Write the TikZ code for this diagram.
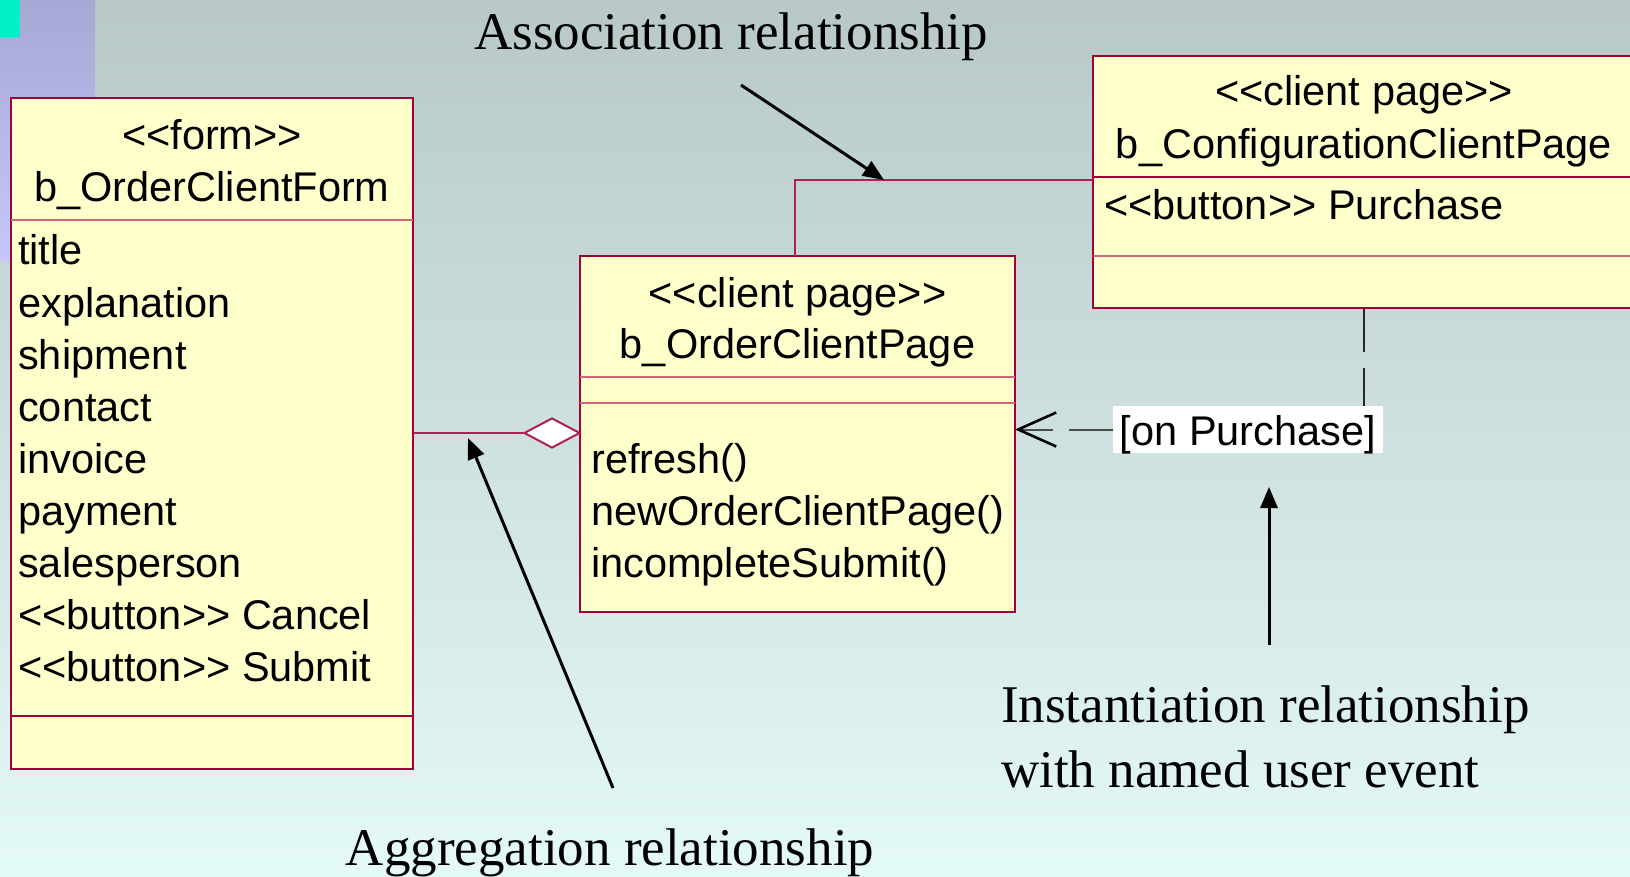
\documentclass[tikz,border=0pt]{standalone}
\usepackage{fontspec}
\setmainfont{Liberation Sans}
\newfontfamily\annfont{Liberation Serif}
\usetikzlibrary{arrows.meta,shapes.geometric}
\definecolor{bgtop}{RGB}{183,200,199}
\definecolor{bgbot}{RGB}{228,250,248}
\definecolor{lavtop}{RGB}{168,168,214}
\definecolor{lavbot}{RGB}{198,198,250}
\definecolor{cyanbox}{RGB}{0,240,200}
\definecolor{boxfill}{RGB}{255,255,204}
\definecolor{crim}{RGB}{160,0,60}
\definecolor{crimlt}{RGB}{208,100,122}
\definecolor{crimln}{RGB}{176,30,84}
\newcommand\stO{<\kern0pt<}
\newcommand\stC{>\kern0pt>}
\begin{document}
\begin{tikzpicture}[x=1pt,y=-1pt,
  classbox/.style={draw=crim, line width=2pt, fill=boxfill, inner sep=0pt, outer sep=0pt},
  sepl/.style={draw=crimlt, line width=2pt},
  sepd/.style={draw=crim, line width=2pt},
  relline/.style={draw=crimln, line width=2pt},
  txt/.style={inner sep=0pt, font=\fontsize{41.5}{52}\selectfont},
  ann/.style={inner sep=0pt, font=\annfont\fontsize{53}{63}\selectfont},
  annarrow/.style={draw=black, line width=3pt, -{Triangle[length=21pt,width=17pt]}},
  instline/.style={line width=2pt, dash pattern=on 44pt off 16pt}
]
\useasboundingbox (0,0) rectangle (1630,877);
% background
\shade[top color=bgtop, bottom color=bgbot] (0,0) rectangle (1630,877);
\shade[top color=lavtop, bottom color=lavbot] (0,0) rectangle (95,261);
\fill[cyanbox] (0,0) rectangle (20,37);

% class boxes
\node[classbox, minimum width=402pt, minimum height=671pt] (form) at (212,433.5) {};
\node[classbox, minimum width=435pt, minimum height=356pt] (mid) at (797.5,434) {};
\node[classbox, minimum width=542pt, minimum height=252pt] (conf) at (1364,182) {};

% separators
\draw[sepl] (form.west |- 0,220) -- (form.east |- 0,220);
\draw[sepd] (form.west |- 0,716) -- (form.east |- 0,716);
\draw[sepl] (mid.west |- 0,377) -- (mid.east |- 0,377);
\draw[sepl] (mid.west |- 0,403) -- (mid.east |- 0,403);
\draw[sepd] (conf.west |- 0,177) -- (conf.east |- 0,177);
\draw[sepl] (conf.west |- 0,256) -- (conf.east |- 0,256);

% texts of form
\node[txt, anchor=base] (f0) at (212,150) {\stO form\stC};
\node[txt, anchor=base] (f1) at (212,202) {b\_OrderClientForm};
\foreach \t [count=\i from 0] in {title,explanation,shipment,contact,invoice,payment,salesperson,\stO button\stC{} Cancel,\stO button\stC{} Submit}
  \node[txt, anchor=base west] (fa\i) at (18,265+52*\i) {\t};

% texts of client page
\node[txt, anchor=base] (m0) at (797.5,307) {\stO client page\stC};
\node[txt, anchor=base] (m1) at (797.5,358) {b\_OrderClientPage};
\node[txt, anchor=base west] (mm1) at (591,473) {refresh()};
\node[txt, anchor=base west] (mm2) at (591,525) {newOrderClientPage()};
\node[txt, anchor=base west] (mm3) at (591,577) {incompleteSubmit()};

% texts of configuration page
\node[txt, anchor=base] (c0) at (1364,106) {\stO client page\stC};
\node[txt, anchor=base] (c1) at (1364,159) {b\_ConfigurationClientPage};
\node[txt, anchor=base west] (ca1) at (1104,220) {\stO button\stC{} Purchase};

% association
\coordinate (bend) at (795,180);
\draw[relline] (mid.north -| bend) -- (bend) -- (bend -| conf.west);

% aggregation
\node[diamond, draw=crimln, line width=2pt, fill=white, minimum width=56pt, minimum height=30pt, inner sep=0pt] (dia) at (552,433) {};
\draw[relline] (dia.west -| form.east) -- (dia.west);

% instantiation
\node[txt, fill=white, text height=39pt, text depth=8pt, inner ysep=0pt, inner xsep=6.5pt, anchor=base] (lbl) at (1248,445) {[on Purchase]};
\draw[instline, draw=black!85] (conf.south) -- (conf.south |- lbl.north);
\draw[instline, draw=black!70, -{Straight Barb[length=38pt,width=34pt,line width=2.6pt,color=black]}] (lbl.west) -- (lbl.west -| mid.east);

% annotations
\node[ann, anchor=base] (tassoc) at (731,50) {Association relationship};
\coordinate (a1s) at (741,85);
\coordinate (a1e) at (884,180);
\draw[annarrow] (a1s) -- (a1e);

\node[ann, anchor=base] (taggr) at (610,865) {Aggregation relationship};
\coordinate (a2s) at (613,788);
\coordinate (a2e) at (468,438);
\draw[annarrow] (a2s) -- (a2e);

\node[ann, anchor=base west] (tinst1) at (1001,722) {Instantiation relationship};
\node[ann, anchor=base west] (tinst2) at (1001,787) {with named user event};
\coordinate (a3s) at (1269,645);
\coordinate (a3e) at (1269,487);
\draw[annarrow] (a3s) -- (a3e);
\end{tikzpicture}
\end{document}
